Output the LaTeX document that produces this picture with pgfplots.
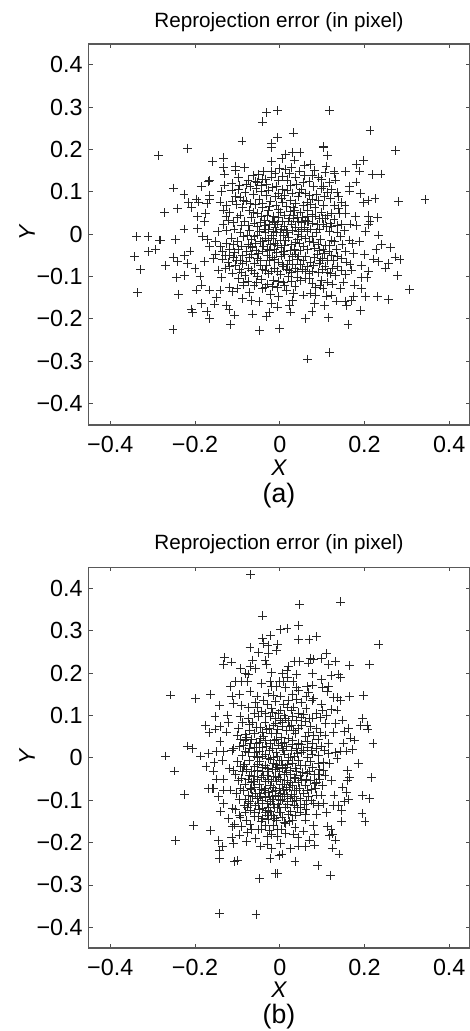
\documentclass[border=0pt]{standalone}
\usepackage{fontspec}
\setmainfont{Liberation Sans}
\usepackage{pgfplots}
\pgfplotsset{compat=1.18}

% common look of both panels
\pgfplotsset{reproj/.style={
    scale only axis, width=286pt, anchor=south west,
    xmin=-0.451, xmax=0.449,
    xtick={-0.4,-0.2,0,0.2,0.4},
    xticklabels={−0.4,−0.2,0,0.2,0.4},
    ytick={-0.4,-0.3,-0.2,-0.1,0,0.1,0.2,0.3,0.4},
    yticklabels={−0.4,−0.3,−0.2,−0.1,0,0.1,0.2,0.3,0.4},
    tick align=inside, tick style={black!70, line width=0.5pt}, major tick length=3pt,
    axis line style={black!65, line width=0.8pt},
    tick label style={font=\fontsize{17.5}{18}\selectfont},
    xticklabel style={yshift=-5pt},
    yticklabel style={xshift=-1pt},
}}
\pgfplotsset{errpts/.style={only marks, mark=+, mark size=3.3pt, mark options={black!85, line width=0.55pt}}}

\begin{document}
\begin{tikzpicture}
\useasboundingbox (0,0) rectangle (352.5pt,773.25pt);

\begin{axis}[reproj, at={(66.5pt,454.5pt)}, height=285.75pt, ymin=-0.451, ymax=0.449]
\addplot[errpts] coordinates {
(-.287,.185)(-.218,.203)(-.089,.220)(-.041,.265)(-.031,.287)(-.158,.172)(-.132,.180)(-.132,.157)
(-.104,.161)(-.083,.157)(-.104,.151)(-.131,.142)(-.063,.139)(-.168,.124)(-.165,.126)(-.185,.112)(-.250,.109)
(-.226,.094)(-.197,.083)(-.192,.076)(-.216,.074)(-.209,.063)(-.241,.061)(-.272,.051)(-.165,.092)
(-.165,.082)(-.172,.072)(-.176,.049)(-.194,.041)(-.177,.029)(-.194,.013)(-.226,.012)(-.338,-.006)
(-.311,-.006)(-.283,-.014)(-.247,-.013)(-.141,.076)(-.137,.100)(-.131,.116)(-.113,.120)(-.098,.134)
(-.113,.104)(-.097,.106)(-.070,.112)(-.043,.116)(-.038,.148)(-.020,.205)(-.020,.214)(-.019,.171)
(-.019,.147)(-.019,.135)(-.005,.292)(.117,.292)(.213,.245)(.032,.239)(-.006,.228)(.103,.205)(.103,.207)
(.274,.198)(.113,.186)(.198,.173)(.182,.165)(.188,.149)(.219,.140)(.239,.142)(.155,.148)(.128,.147)
(.130,.144)(.109,.161)(.107,.145)(.180,.123)(.164,.113)(.164,.102)(.131,.128)(.190,.096)(.198,.074)
(.208,.080)(.225,.084)(.280,.077)(.343,.082)(.139,.088)(.154,.068)(.120,.084)(.155,.049)(.178,.041)
(.209,.043)(.231,.039)(.213,.029)(.209,.023)(.202,.007)(.233,-.002)(.166,.024)(.182,.021)(.153,.009)
(.048,.193)(.030,.193)(.013,.189)(.005,.179)(.034,.175)(.072,.165)(.058,.163)(.082,.151)(.091,.134)
(.058,.139)(.099,.108)(.087,.094)(.013,.153)(-.003,.126)(.017,.128)(.040,.117)(.017,.104)(-.003,.096)
(.043,.088)(.064,.074)(.103,.068)(.123,.049)(.032,.037)(.064,.029)(.107,.037)(.119,.025)(.087,.003)
(.044,.006)(.135,.003)
(-.343,-.053)(-.310,-.042)(-.293,-.036)(-.282,-.014)(-.328,-.083)(-.336,-.138)(-.252,-.225)(-.270,-.075)
(-.252,-.054)(-.241,-.065)(-.244,-.103)(-.224,-.097)(-.239,-.142)(-.224,-.051)(-.218,-.070)(-.200,-.081)
(-.212,-.040)(-.188,-.099)(-.184,-.120)(-.196,-.132)(-.166,-.132)(-.184,-.164)(-.208,-.177)(-.206,-.185)
(-.172,-.183)(-.166,-.199)(-.154,-.165)(-.149,-.150)(-.141,-.132)(-.118,-.125)(-.111,-.136)(-.125,-.168)
(-.120,-.179)(-.106,-.191)(-.116,-.213)(-.088,-.152)(-.064,-.189)(-.068,-.156)(-.049,-.160)(-.047,-.227)
(-.032,-.194)(-.025,-.185)(-.020,-.164)(-.040,-.128)(-.086,-.113)(-.137,-.103)(-.178,-.064)(-.157,-.057)
(-.145,-.085)
(.306,-.130)(.278,-.098)(.261,-.032)(.241,-.024)(.227,-.037)(.200,-.048)(.272,-.054)(.284,-.060)(.257,-.069)
(.249,-.080)(.233,-.064)(.222,-.059)(.209,-.087)(.192,-.075)(.192,-.103)(.206,-.103)(.176,-.120)(.192,-.128)
(.203,-.148)(.231,-.147)(.257,-.154)(.174,-.148)(.169,-.156)(.154,-.158)(.157,-.169)(.133,-.158)(.191,-.180)
(.161,-.213)(.115,-.197)(.105,-.169)(.082,-.164)(.076,-.182)(.060,-.199)(.026,-.184)(.023,-.169)(-.005,-.172)
(.000,-.223)(.065,-.295)(.117,-.279)(.111,-.146)(.123,-.144)(.084,-.144)(.072,-.140)(.056,-.144)(.030,-.156)
(.032,-.140)(-.003,-.148)(.143,-.128)(.151,-.113)(.170,-.085)(.166,-.072)(.174,-.046)(.164,-.014)(.113,-.113)
(.076,-.117)(.060,-.105)(.009,-.113)(.036,-.124)(.107,-.077)(.080,-.073)(.135,-.077)
(-.118,.052)(-.127,.041)(-.121,.033)(-.110,.028)(-.134,.022)(-.125,.009)(-.146,.006)(-.108,.012)(-.094,.045)
(-.088,.062)(-.079,.078)(-.072,.055)(-.084,.031)(-.066,.039)(-.058,.070)(-.049,.083)(-.053,.048)(-.040,.062)
(-.031,.091)(-.036,.033)(-.022,.078)(-.027,.055)(-.014,.041)(-.018,.110)(-.009,.068)(.004,.084)(.002,.052)
(-.062,.094)(-.044,.101)(-.031,.118)(-.053,.018)(-.071,.008)(-.094,.004)(-.037,.012)(-.024,.022)(-.011,.017)
(.006,.031)(.016,.066)(.024,.053)(.027,.024)(.038,.072)(.049,.052)(.054,.040)(.066,.057)(.076,.047)(.072,.012)
(.083,.064)(.094,.036)(.098,.052)(.110,.018)(.118,.006)(.128,.034)(.141,.048)(.146,.022)(.094,.012)(.052,.011)
(.037,.017)(.015,.008)(.004,.012)(-.008,.003)(-.020,-.004)(-.035,-.009)(-.052,-.002)(-.068,-.012)(-.085,-.006)
(-.099,-.018)(-.114,-.009)(-.126,-.022)(-.139,-.029)(-.152,-.017)(-.166,-.030)(-.171,-.012)(-.183,-.006)
(-.119,-.035)(-.106,-.043)(-.091,-.028)(-.078,-.041)(-.064,-.032)(-.050,-.046)(-.038,-.028)(-.024,-.038)
(-.011,-.021)(.003,-.032)(.014,-.015)(.027,-.024)(.041,-.013)(.055,-.028)(.069,-.018)(.082,-.033)(.096,-.012)
(.108,-.027)(.122,-.014)(.134,-.036)(.147,-.024)(.156,-.042)(.171,-.022)(.188,-.018)(.143,-.006)
(-.152,-.048)(-.136,-.059)(-.122,-.067)(-.103,-.061)(-.088,-.070)(-.072,-.056)(-.059,-.069)(-.045,-.062)
(-.032,-.073)(-.017,-.054)(-.004,-.066)(.011,-.048)(.022,-.061)(.036,-.047)(.049,-.072)(.061,-.052)(.072,-.066)
(.088,-.048)(.101,-.058)(.116,-.042)(.126,-.062)(.145,-.058)(.158,-.066)
(-.128,-.082)(-.112,-.092)(-.095,-.083)(-.082,-.097)(-.066,-.086)(-.053,-.099)(-.041,-.084)(-.027,-.094)
(-.013,-.081)(.001,-.096)(.015,-.084)(.028,-.091)(.041,-.088)(.053,-.083)(.069,-.094)(.091,-.091)(.119,-.094)
(.131,-.098)(.145,-.086)(.155,-.095)
(-.098,-.105)(-.075,-.112)(-.061,-.122)(-.044,-.108)(-.029,-.118)(-.014,-.109)(-.006,-.127)(.020,-.101)
(.049,-.110)(.084,-.125)(.098,-.110)(.125,-.118)(-.101,-.128)(-.072,-.138)(-.022,-.142)(.015,-.133)
(-.074,.021)(-.061,.026)(-.047,.006)(-.012,.028)(-.003,.040)(.012,.045)(.022,.038)(.034,.055)(.044,.029)
(.058,.017)(.064,.043)(.078,.026)(.102,.022)(.113,.044)(-.094,.087)(-.082,.098)(-.056,.108)(-.010,.089)
(.007,.075)(.029,.097)(.052,.106)(.071,.092)(.080,.112)(.112,.098)(.128,.068)(-.035,.005)(-.028,-.015)
(-.016,-.011)(-.006,-.026)(.009,-.041)(.020,-.008)(.034,-.036)(.046,-.021)(.060,-.010)(.076,-.005)(.094,-.039)
(-.045,-.018)(-.058,-.022)(-.075,-.025)(-.088,-.050)(-.030,-.050)(-.008,-.044)(.003,-.052)(.030,-.072)
(.042,-.060)(.065,-.077)(.093,-.070)(.112,-.062)(-.118,-.050)(-.135,-.040)(-.104,-.075)(-.045,-.075)
(-.050,.141)(-.034,.130)(-.011,.143)(.006,.137)(.023,.143)(.038,.135)(.047,.149)(.069,.125)(.078,.138)(.098,.129)(.118,.122)
(-.075,.128)(-.052,.123)(-.026,.104)(-.008,.113)(.006,.105)(.026,.115)(.047,.099)(.060,.096)(.078,.083)(.092,.079)(.105,.088)
(-.104,.088)(-.086,.079)(-.070,.073)(-.040,.073)(-.025,.066)(-.003,.059)(.012,.091)(.025,.080)(.033,.063)(.056,.067)(.073,.070)
(-.102,.069)(-.111,.078)(-.125,.068)(-.132,.057)(-.101,.040)(-.090,.020)(-.063,.051)(-.044,.043)(-.030,.044)(-.018,.031)(-.005,.024)
(.010,.018)(.020,.031)(.031,.045)(.041,.040)(.052,.028)(.061,.033)(.068,.029)(.085,.043)(.088,.022)(.100,.036)(.122,.018)(.135,.020)
(-.046,.028)(-.034,.021)(-.027,.010)(-.014,.006)(.001,.005)(.009,-.003)(.019,.004)(.030,.009)(.043,.000)(.050,-.006)(.064,.006)
(-.061,-.006)(-.076,-.002)(-.041,-.017)(-.022,-.024)(-.012,-.036)(.001,-.014)(.011,-.027)(.024,-.038)(.036,-.019)(.048,-.039)(.066,-.037)
(.080,-.019)(.090,-.024)(.102,-.037)(.117,-.027)(.130,-.018)(-.069,-.029)(-.056,-.038)(-.041,-.040)(-.030,-.035)(-.098,-.036)(-.110,-.025)
(-.128,-.050)(-.110,-.055)(-.094,-.062)(-.078,-.065)(-.066,-.049)(-.052,-.057)(-.025,-.062)(-.012,-.060)(.006,-.072)(.018,-.072)(.029,-.053)
(.044,-.052)(.055,-.063)(.081,-.055)(.095,-.063)(.106,-.046)(.123,-.050)(.136,-.052)(-.118,-.076)(-.090,-.090)(-.074,-.080)(-.060,-.092)
(-.035,-.086)(-.020,-.087)(-.005,-.089)(.009,-.076)(.022,-.085)(.036,-.080)(.060,-.088)(.078,-.088)(.101,-.084)(.112,-.090)(.124,-.080)
(-.085,-.120)(-.055,-.115)(-.035,-.127)(-.018,-.124)(-.003,-.112)(.011,-.122)(.028,-.112)(.042,-.102)(.070,-.105)(.102,-.128)(.095,-.122)
(-.095,.115)(-.079,.118)(-.058,.125)(-.040,.130)(.000,.155)(.027,.158)(.055,.122)(.104,.112)(.122,.105)(.135,.098)(.145,.074)(.138,.060)
};
\end{axis}

\begin{axis}[reproj, at={(66.5pt,62.25pt)}, height=285.5pt, ymin=-0.449, ymax=0.4496]
\addplot[errpts] coordinates {
(-.069,.433)(-.041,.335)(-.022,.289)(-.041,.283)(-.039,.270)(-.028,.266)(-.070,.261)(-.050,.249)(-.027,.246)
(-.131,.237)(-.133,.221)(-.114,.226)(-.035,.231)(-.032,.221)(-.064,.231)(-.092,.211)(-.070,.215)(-.058,.211)
(-.080,.199)(-.074,.198)(-.019,.201)(-.104,.180)(-.091,.180)(-.076,.181)(-.043,.176)(-.023,.180)(-.019,.169)
(-.116,.168)(-.257,.148)(-.198,.140)(-.163,.150)(-.095,.150)(-.070,.156)(-.113,.146)(-.054,.146)(-.039,.136)
(-.143,.124)(-.110,.128)(-.091,.123)(-.074,.119)(-.058,.130)(-.153,.097)(-.123,.101)(-.094,.098)(-.176,.077)
(-.167,.059)(-.141,.073)(-.153,.068)(-.121,.083)(-.125,.061)(-.098,.069)(-.072,.064)(-.050,.097)(-.141,.039)
(-.092,.043)(-.218,.028)(-.206,.022)(-.269,.004)(-.187,.004)(-.168,.010)(-.150,.014)(-.133,.014)(-.113,.018)
(-.109,.022)(-.071,.022)(-.055,.034)(-.039,.050)(-.019,.057)(-.023,.097)(-.019,.116)
(.144,.368)(.046,.361)(.045,.313)(.017,.306)(.001,.302)(.045,.280)(.069,.280)(.087,.286)(.234,.267)(-.005,.268)
(-.007,.253)(.111,.246)(.098,.235)(.072,.235)(.080,.233)(.131,.227)(.046,.228)(.034,.228)(.165,.218)(.212,.220)
(.115,.220)(.068,.224)(.020,.215)(.017,.207)(.077,.199)(.040,.197)(.121,.194)(.139,.197)(.144,.190)(.099,.185)
(.019,.191)(.006,.199)(.009,.180)(.031,.180)(.077,.172)(.064,.169)(.040,.166)(.115,.169)(.101,.166)(.068,.154)
(.113,.157)(.013,.166)(-.007,.168)(.001,.146)(.198,.147)(.165,.144)(.127,.142)(.144,.136)(.137,.143)(.080,.140)
(.076,.135)(.020,.136)(.099,.127)(.123,.114)(.135,.113)(.101,.113)(.062,.117)(.032,.120)(.017,.120)(.087,.105)
(.056,.103)(.028,.113)(.001,.113)(.196,.092)(.148,.089)(.190,.076)(.206,.077)(.208,.068)(.162,.069)(.153,.063)
(.131,.081)(.108,.081)(.127,.060)(.107,.054)(.072,.073)(.087,.069)(.052,.077)(.068,.061)(.166,.047)(.176,.042)
(.220,.033)(.150,.035)(.115,.034)(.091,.043)(.172,.020)(.158,.016)(.144,.016)(.131,.012)(.115,.010)(.087,.022)
(.091,.006)(.044,.034)(.036,.057)(.020,.046)(.005,.073)(-.007,.057)(.005,.022)(.020,.002)(.056,.018)
(-.249,-.031)(-.224,-.087)(-.204,-.160)(-.246,-.196)(-.163,-.172)(-.145,-.196)(-.135,-.209)(-.143,-.218)
(-.143,-.237)(-.113,-.189)(-.109,-.202)(-.106,-.244)(-.100,-.242)(-.078,-.197)(-.076,-.176)(-.046,-.208)
(-.029,-.205)(-.019,-.214)(-.023,-.238)(-.048,-.285)(-.143,-.367)(-.056,-.369)(-.011,-.273)(-.020,-.181)
(-.043,-.168)(-.070,-.157)(-.111,-.163)(-.106,-.157)(-.121,-.143)(-.094,-.141)(-.139,-.127)(-.111,-.120)
(-.133,-.108)(-.145,-.092)(-.159,-.072)(-.156,-.072)(-.168,-.072)(-.133,-.076)(-.117,-.076)(-.102,-.084)
(-.094,-.073)(-.174,-.021)(-.157,-.031)(-.150,-.050)(-.133,-.050)
(.185,-.013)(.217,-.047)(.159,-.030)(.164,-.046)(.160,-.054)(.148,-.069)(.158,-.082)(.196,-.089)(.212,-.096)
(.162,-.098)(.153,-.104)(.128,-.088)(.127,-.112)(.139,-.113)(.146,-.124)(.194,-.131)(.201,-.150)(.146,-.150)
(.111,-.129)(.087,-.133)(.113,-.163)(.121,-.169)(.117,-.183)(.125,-.180)(.131,-.194)(.124,-.213)(.140,-.227)
(.082,-.180)(.080,-.159)(.056,-.173)(.043,-.188)(.070,-.194)(.082,-.206)(.060,-.210)(.044,-.208)(.025,-.214)
(.036,-.165)(.032,-.180)(.061,-.134)(.060,-.147)(.013,-.155)(.001,-.202)(.005,-.227)(-.002,-.230)(.036,-.244)
(.090,-.255)(.119,-.277)(-.005,-.273)(.087,-.088)(.099,-.088)(.068,-.092)(.091,-.112)(.103,-.108)(.048,-.116)
(.017,-.092)(.122,-.053)(.107,-.041)(.087,-.057)(.052,-.053)(.040,-.033)(.020,-.005)(.092,-.014)(.135,-.002)
(-.136,-.006)(-.155,-.011)(-.118,-.026)(-.110,-.030)(-.098,-.053)(-.060,-.045)(-.075,-.088)(-.052,-.096)(-.040,-.143)
(-.060,-.139)(-.084,-.112)(-.018,-.080)(-.022,-.127)(-.035,-.160)(-.050,-.170)(-.015,-.160)
(-.089,.006)(-.074,.012)(-.061,.004)(-.047,.016)(-.033,.009)(-.018,.022)(-.009,.012)(.011,.009)(.028,.017)(.041,.010)
(.065,.002)(.076,.009)(-.085,.029)(-.066,.044)(-.047,.036)(-.031,.028)(-.013,.041)(-.003,.030)(.012,.036)(.029,.031)
(.052,.032)(.064,.039)(.077,.033)(-.082,.056)(-.060,.058)(-.046,.071)(-.032,.067)(-.015,.076)(.001,.088)(.016,.064)
(.028,.076)(.039,.089)(.050,.096)(.070,.093)(-.064,.083)(-.044,.109)(-.035,.084)(-.010,.094)(.010,.101)(.021,.088)
(-.030,.126)(-.010,.133)(.008,.127)(.040,.137)(.052,.130)(.062,.144)(.030,.150)(.045,.158)(-.028,.153)(-.015,.147)
(.000,.180)(-.010,.082)
(-.099,-.008)(-.084,-.015)(-.072,-.006)(-.059,-.020)(-.047,-.009)(-.034,-.018)(-.021,-.004)(-.009,-.016)(.003,-.007)
(.014,-.022)(.030,-.012)(.044,-.006)(.060,-.018)(.073,-.009)(.104,-.010)(.118,-.014)(-.105,-.040)(-.088,-.033)
(-.072,-.042)(-.052,-.030)(-.039,-.041)(-.026,-.032)(-.014,-.044)(-.002,-.033)(.010,-.040)(.024,-.029)(.053,-.035)
(.071,-.031)(.082,-.040)(.094,-.028)(-.082,-.062)(-.068,-.058)(-.047,-.063)(-.034,-.056)(-.022,-.066)(-.008,-.055)
(.005,-.062)(.018,-.053)(.030,-.066)(.043,-.058)(.060,-.064)(.072,-.054)(.100,-.066)(-.066,-.075)(-.048,-.084)
(-.036,-.078)(-.024,-.090)(-.010,-.076)(.002,-.084)(.015,-.074)(.028,-.086)(.039,-.078)(.056,-.083)(.075,-.075)
(-.096,-.098)(-.070,-.104)(-.058,-.112)(-.042,-.100)(-.030,-.108)(-.014,-.098)(-.004,-.110)(.005,-.098)(.029,-.104)
(.039,-.100)(.058,-.110)(.075,-.100)(-.104,-.122)(-.082,-.128)(-.070,-.124)(-.048,-.122)(-.034,-.130)(-.012,-.118)
(-.002,-.128)(.013,-.116)(.026,-.126)(.038,-.135)(.005,-.140)(-.008,-.148)(.022,-.150)(-.078,-.148)(-.090,-.162)
(-.044,-.150)(-.028,-.145)(.004,-.168)(.014,-.178)(-.006,-.186)(-.030,-.185)(-.058,-.190)(-.095,-.182)
(-.010,-.028)(-.016,-.012)(-.026,-.052)(-.034,-.072)(-.018,-.098)(-.004,-.090)(.007,-.026)(.018,-.016)(.034,-.046)
(-.006,.004)(-.025,.018)(-.040,.024)(-.056,.012)(-.078,.048)(.004,.048)(.026,.002)(-.004,-.046)(.012,-.086)(-.040,-.032)
(-.060,-.070)(-.076,-.116)(-.095,-.135)(.024,-.095)(.042,-.118)(-.020,-.135)(-.006,-.118)(-.052,-.050)(-.086,-.020)
(-.075,.094)(-.060,.104)(-.052,.118)(-.035,.104)(-.018,.108)(-.003,.104)(.014,.094)(.030,.098)(.044,.106)(.060,.086)(.078,.094)(.097,.096)(.110,.100)
(-.088,.084)(-.072,.078)(-.056,.072)(-.040,.060)(-.024,.070)(-.006,.067)(.006,.083)(.022,.073)(.032,.065)(.044,.070)(.060,.050)(.080,.052)(.095,.060)
(-.100,.054)(-.082,.040)(-.070,.034)(-.060,.024)(-.046,.046)(-.034,.040)(-.022,.034)(-.008,.044)(.004,.034)(.016,.026)(.030,.040)(.040,.022)(.052,.012)
(.066,.024)(.075,.018)(.098,.028)(.105,.018)(-.095,.026)(-.082,.016)(-.052,.000)(-.040,.004)(-.028,-.002)(-.014,.002)(-.002,-.006)(.008,.018)(.034,.003)
(-.092,-.020)(-.078,-.028)(-.066,-.032)(-.052,-.016)(-.040,-.022)(-.029,-.026)(-.018,-.028)(-.006,-.022)(.006,-.018)(.016,-.034)(.026,-.040)(.038,-.024)
(.048,-.018)(.064,-.036)(.078,-.022)(.092,-.040)(.104,-.030)(-.090,-.048)(-.075,-.050)(-.062,-.056)(-.044,-.046)(-.030,-.042)(-.020,-.056)(-.010,-.044)
(.002,-.050)(.012,-.062)(.024,-.058)(.038,-.048)(.048,-.042)(.062,-.050)(.082,-.060)(.094,-.052)(-.086,-.078)(-.070,-.072)(-.058,-.084)(-.044,-.074)
(-.028,-.082)(-.016,-.070)(-.002,-.072)(.008,-.078)(.022,-.070)(.034,-.076)(.046,-.072)(.064,-.076)(.084,-.072)(-.082,-.098)(-.064,-.092)(-.046,-.092)
(-.034,-.094)(-.022,-.104)(-.010,-.088)(.002,-.100)(.018,-.102)(.034,-.092)(.048,-.096)(.062,-.100)(.079,-.108)(-.074,-.108)(-.050,-.108)(-.026,-.118)
(-.014,-.110)(.000,-.118)(.018,-.110)(.034,-.112)(.048,-.128)(.062,-.122)(-.060,-.128)(-.040,-.120)(-.028,-.124)(-.014,-.136)(.002,-.130)(.020,-.134)
(-.050,-.138)(-.030,-.136)(-.012,-.142)(.010,-.152)(.030,-.148)(-.068,-.170)(-.024,-.172)(-.006,-.168)
};
\end{axis}

\begin{scope}[x=0.75pt,y=-0.75pt,shift={(0,773.25pt)}]
\node[font=\fontsize{15.5}{16}\selectfont] at (279,22) {Reprojection error (in pixel)};
\node[font=\fontsize{17}{17}\selectfont\itshape] at (279,468) {X};
\node[font=\fontsize{20}{20}\selectfont] at (279,496) {(a)};
\node[font=\fontsize{17}{17}\selectfont\itshape, rotate=90] at (27,233) {Y};
\node[font=\fontsize{15.5}{16}\selectfont] at (279,544) {Reprojection error (in pixel)};
\node[font=\fontsize{17}{17}\selectfont\itshape] at (279,990) {X};
\node[font=\fontsize{20}{20}\selectfont] at (279,1017) {(b)};
\node[font=\fontsize{17}{17}\selectfont\itshape, rotate=90] at (27,757) {Y};
\end{scope}
\end{tikzpicture}
\end{document}
